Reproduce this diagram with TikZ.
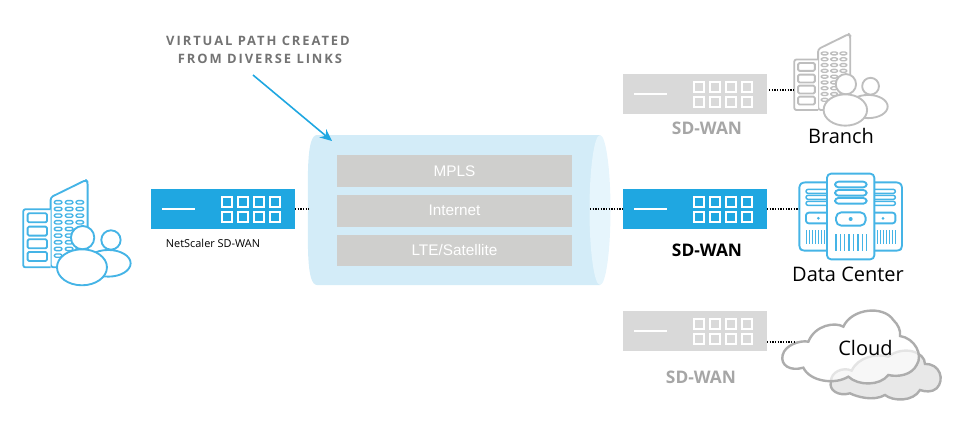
\documentclass[tikz,border=0pt]{standalone}
\usepackage{fontspec}
\setmainfont{Open Sans}
\newfontfamily\arialf{Liberation Sans}
\newfontfamily\capsf[LetterSpace=15]{Open Sans}
\usetikzlibrary{arrows.meta}
\definecolor{swblue}{HTML}{1FA7E1}
\definecolor{iconblue}{HTML}{45B4E6}
\definecolor{swgrey}{HTML}{D9D9D9}
\definecolor{icongrey}{HTML}{BEBEBE}
\definecolor{tube}{HTML}{D3ECF8}
\definecolor{tubeend}{HTML}{E6F5FC}
\definecolor{barc}{HTML}{CFCFCD}
\tikzset{
  switchbox/.style={minimum width=108pt,minimum height=30pt,inner sep=0pt,outer sep=0pt,fill=#1},
  dotline/.style={black,line width=1.1pt,dash pattern=on 1.1pt off .9pt},
  barbox/.style={fill=barc,minimum width=176.25pt,minimum height=24pt,inner sep=0pt,text=white,font=\arialf\fontsize{11.5}{13}\selectfont},
  devlabel/.style={inner sep=0pt,font=\bfseries\fontsize{13}{15}\selectfont},
  placelabel/.style={inner sep=0pt,text=black,font=\fontsize{15}{18}\selectfont},
  headlabel/.style={inner sep=0pt,text=black!55,font=\capsf\bfseries\fontsize{9.7}{12}\selectfont},
  iconline/.style={line width=1.4pt,line join=round}
}
% front panel of a switch: centre at #1 = node name
\newcommand{\swfront}[1]{%
  \begin{scope}[shift={(#1.west)}]
    \draw[white,line width=1.1pt] (11,0) -- (44,0);
    \foreach \xx in {71,87,103,119}
      \foreach \yy in {-12,3}
        \draw[white,line width=1.2pt] (\xx,\yy) rectangle +(10,10);
  \end{scope}}
% #1,#2 = lower left corner of building, #3 = scale, #4 = colour
\newcommand{\bldgicon}[4]{%
  \begin{scope}[shift={(#1,#2)},scale=#3/3,shift={(-70,-322)},iconline,draw=#4]
    \draw[rounded corners=2pt,fill=white] (152,322) -- (152,112) -- (258,60) -- (263,66) -- (263,322) -- cycle;
    \draw[rounded corners=1.5pt,fill=white] (152,148) -- (70,148) -- (70,322) -- (152,322);
    \foreach \yy in {160,200,238,276} \draw[rounded corners=1pt] (83,\yy) rectangle +(58,27);
    \foreach \xx in {163,196,228} \foreach \yy in {122,142,162,182,202,222,242,262,282}
      \draw[rounded corners=1.5pt,line width=1pt] (\xx,\yy) rectangle +(23,10);
    \draw[fill=white] (333,240) circle[radius=29];
    \draw[fill=white] (325,310) ellipse[x radius=67,y radius=40];
    \draw[fill=white] (248,233) circle[radius=35];
    \draw[fill=white] (246,322) ellipse[x radius=75,y radius=54];
  \end{scope}}
% one server tower
\newcommand{\ventlines}[5]{\foreach \ii in {1,...,#3}
  \draw[line width=1pt] ({#1+(\ii-1)*(#2-#1)/(#3-1)},#4) -- ++(0,#5-#4);}
\begin{document}
\begin{tikzpicture}[x=.75pt,y=-.75pt]
\path[use as bounding box] (0,0) rectangle (978,425);

% tube
\fill[tube] (317,135) -- (600,135) -- (600,285) -- (317,285)
   .. controls (306,285) and (308,240) .. (308,210)
   .. controls (308,180) and (306,135) .. (317,135) -- cycle;
\fill[tubeend] (600,210) ellipse[x radius=10.5,y radius=75];
\coordinate (tubeL) at (309,209);
\coordinate (tubeR) at (590,209);
\node[barbox] (mpls) at (454.5,171) {MPLS};
\node[barbox] (inet) at (454.5,210.5) {\raisebox{-.6pt}{Internet}};
\node[barbox,minimum height=23.5pt] (lte) at (454.5,250.5) {\raisebox{-.6pt}{LTE/Satellite}};

% switches
\node[switchbox=swblue] (swL) at (223,209) {};
\node[switchbox=swgrey] (swT) at (695,94) {};
\node[switchbox=swblue] (swM) at (695,209) {};
\node[switchbox=swgrey] (swB) at (695,331) {};
\swfront{swL}\swfront{swM}\swfront{swT}\swfront{swB}

% labels
\node[inner sep=0pt,font=\fontsize{8.2}{10}\selectfont] (lblN) at (213,243) {NetScaler SD-WAN};
\node[devlabel,text=black] (lblM) at (707,250) {SD-WAN};
\node[devlabel,text=black!35] (lblT) at (707,128) {SD-WAN};
\node[devlabel,text=black!35] (lblB) at (701,377) {SD-WAN};
\node[headlabel] (head1) at (258,41) {VIRTUAL PATH CREATED};
\node[headlabel] (head2) at (260,59) {FROM DIVERSE LINKS};

% arrow
\coordinate (arrowS) at (253,75);
\coordinate (arrowE) at (332,141);
\draw[swblue,line width=1.2pt,-{Stealth[length=9pt,width=8pt]}] (arrowS) -- (arrowE);

% icons
\bldgicon{23.3}{267.3}{1}{iconblue}
\bldgicon{794.3}{110}{.87}{icongrey}
\node[placelabel] (lblBr) at (841,136) {Branch};

% data center
\begin{scope}[shift={(770,160)},scale=1/3,iconline,draw=iconblue]
  \draw[rounded corners=2pt] (171,67) -- (98,67) -- (88,75) -- (88,264) -- (96,272) -- (171,272);
  \draw[rounded corners=2pt] (313,67) -- (386,67) -- (396,75) -- (396,264) -- (388,272) -- (313,272);
  \foreach \yy in {88,106,124} {
    \draw[rounded corners=1.5pt,line width=1.1pt] (171,\yy) -- (108,\yy) -- (108,\yy+12) -- (171,\yy+12);
    \draw[rounded corners=1.5pt,line width=1.1pt] (313,\yy) -- (376,\yy) -- (376,\yy+12) -- (313,\yy+12);
  }
  \draw[rounded corners=2pt] (171,158) -- (108,158) -- (108,190) -- (171,190);
  \draw[rounded corners=2pt] (313,158) -- (376,158) -- (376,190) -- (313,190);
  \fill[iconblue] (145,175) circle[radius=4.5];
  \fill[iconblue] (339,175) circle[radius=4.5];
  \ventlines{110}{164}{7}{210}{253}
  \ventlines{322}{376}{7}{210}{253}
  \draw[fill=white,rounded corners=3pt] (171,41) rectangle (313,298);
  \foreach \yy in {65,90,114} \draw[rounded corners=2.5pt] (195,\yy) rectangle (290,\yy+17);
  \draw[rounded corners=4pt] (198,157) rectangle (287,197);
  \fill[iconblue] (242,177) circle[radius=6];
  \ventlines{198}{290}{8}{222}{273}
\end{scope}
\node[placelabel] (lblDC) at (848,274) {Data Center};

% cloud
\begin{scope}[shift={(760,300)},scale=1/3,line width=1.8pt,draw=icongrey]
  \draw[fill=black!9,draw=black!32] (213,245)
     .. controls (212,215) and (250,200) .. (275,212)
     .. controls (295,170) and (350,160) .. (385,170)
     .. controls (430,135) and (495,155) .. (495,192)
     .. controls (540,190) and (555,240) .. (530,265)
     .. controls (515,278) and (495,275) .. (480,270)
     .. controls (460,305) and (400,305) .. (375,285)
     .. controls (340,305) and (290,290) .. (270,280)
     .. controls (235,290) and (205,270) .. (213,245) -- cycle;
  \draw[fill=white,fill opacity=.68,draw=black!32] (145,125)
     .. controls (165,75) and (225,65) .. (250,80)
     .. controls (275,25) and (370,15) .. (400,60)
     .. controls (415,75) and (422,90) .. (420,108)
     .. controls (465,115) and (490,165) .. (470,195)
     .. controls (455,225) and (415,232) .. (385,225)
     .. controls (360,258) and (295,258) .. (265,230)
     .. controls (225,255) and (150,245) .. (130,203)
     .. controls (90,215) and (60,195) .. (68,165)
     .. controls (75,135) and (120,120) .. (145,125) -- cycle;
\end{scope}
\node[placelabel] (lblC) at (865.5,348) {Cloud};

% connectors
\coordinate (bldgIn) at (795,90);
\coordinate (swTout) at (769,90);
\coordinate (srvIn) at (799,209);
\coordinate (cloudIn) at (795,342);
\coordinate (swBout) at (767,342);
\draw[dotline] (swL.east) -- (tubeL);
\draw[dotline] (tubeR) -- (swM.west);
\draw[dotline] (swM.east) -- (srvIn);
\draw[dotline] (swTout) -- (bldgIn);
\draw[dotline] (swBout) -- (cloudIn);
\end{tikzpicture}
\end{document}
